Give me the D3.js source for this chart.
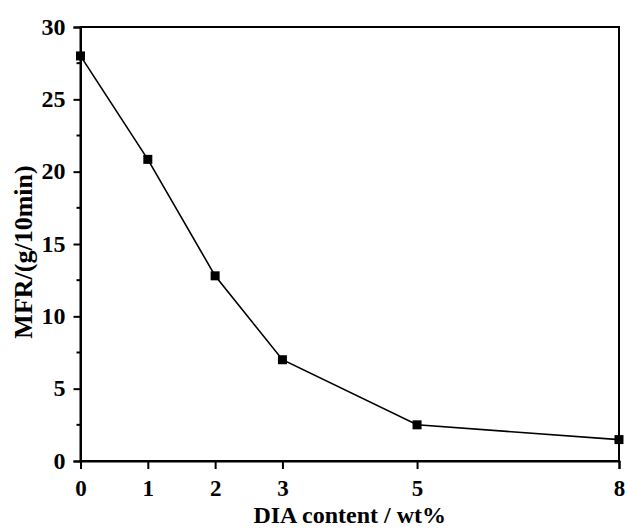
<!DOCTYPE html>
<html>
<head>
<meta charset="utf-8">
<script src="https://cdn.jsdelivr.net/npm/d3@7"></script>
<style>
  body { margin: 0; background: #fff; }
  text { font-family: 'Liberation Serif', 'Times New Roman', serif; font-weight: bold; fill: #000; }
</style>
</head>
<body>
<script>
const width = 625
const height = 530
const margin = { top: 27, right: 6, bottom: 69, left: 80.5 }

// datos
const contenido = [0, 1, 2, 3, 5, 8]
const mfr = [28.0, 20.85, 12.8, 7.0, 2.5, 1.48]
const xTicks = [0, 1, 2, 3, 5, 8]
const yTicks = [0, 5, 10, 15, 20, 25, 30]
const yMinor = [2.5, 7.5, 12.5, 17.5, 22.5, 27.5]

const datos = contenido.map((c, i) => ({ x: c, y: mfr[i] }))

const x = d3.scaleLinear().domain([0, 8]).range([margin.left, width - margin.right])
const y = d3.scaleLinear().domain([0, 30]).range([height - margin.bottom, margin.top])

const svg = d3.select('body').append('svg').attr('width', width).attr('height', height)

// marco
svg.append('rect')
  .attr('x', margin.left)
  .attr('y', margin.top)
  .attr('width', x(8) - x(0))
  .attr('height', y(0) - y(30))
  .attr('fill', 'none')
  .attr('stroke', '#000')
  .attr('stroke-width', 2)

// eje x
const ejeX = svg.append('g')
  .attr('transform', `translate(0,${y(0)})`)
  .call(d3.axisBottom(x).tickValues(xTicks).tickFormat(d3.format('d')).tickSize(8).tickPadding(11))
ejeX.select('.domain').attr('stroke-width', 2)
ejeX.selectAll('.tick line').attr('stroke-width', 2)
ejeX.selectAll('text').attr('font-size', 23).style('font-family', 'Liberation Serif').style('font-weight', 'bold')

// eje y
const ejeY = svg.append('g')
  .attr('transform', `translate(${x(0)},0)`)
  .call(d3.axisLeft(y).tickValues(yTicks).tickSize(7).tickPadding(8))
ejeY.select('.domain').attr('stroke-width', 2)
ejeY.selectAll('.tick line').attr('stroke-width', 2)
ejeY.selectAll('text').attr('font-size', 24).attr('dy', '0.3em').style('font-family', 'Liberation Serif').style('font-weight', 'bold')

svg.append('g')
  .selectAll('line')
  .data(yMinor)
  .join('line')
  .attr('x1', x(0) - 4)
  .attr('x2', x(0))
  .attr('y1', d => y(d))
  .attr('y2', d => y(d))
  .attr('stroke', '#000')
  .attr('stroke-width', 2)

// linea
const linea = d3.line().x(d => x(d.x)).y(d => y(d.y))
svg.append('path')
  .datum(datos)
  .attr('d', linea)
  .attr('fill', 'none')
  .attr('stroke', '#000')
  .attr('stroke-width', 1.6)

// marcadores
const lado = 9
svg.append('g')
  .selectAll('rect')
  .data(datos)
  .join('rect')
  .attr('x', d => x(d.x) - lado / 2)
  .attr('y', d => y(d.y) - lado / 2)
  .attr('width', lado)
  .attr('height', lado)
  .attr('fill', '#000')

// titulos
svg.append('text')
  .attr('x', (x(0) + x(8)) / 2)
  .attr('y', 523)
  .attr('text-anchor', 'middle')
  .attr('font-size', 24)
  .text('DIA content / wt%')

svg.append('text')
  .attr('transform', `translate(32,252) rotate(-90)`)
  .attr('text-anchor', 'middle')
  .attr('font-size', 26)
  .text('MFR/(g/10min)')
</script>
</body>
</html>
